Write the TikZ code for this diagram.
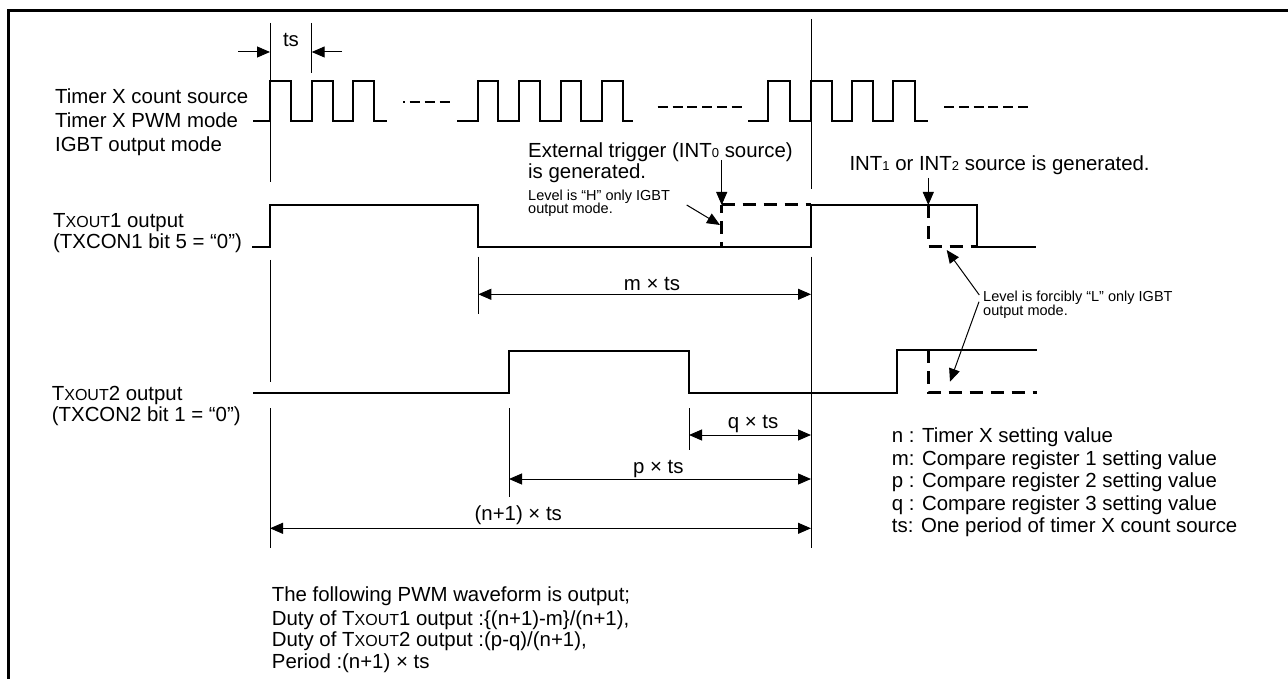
\documentclass[tikz,border=0pt]{standalone}
\usepackage{fontspec}
\setmainfont{Liberation Sans}
\usetikzlibrary{arrows.meta}
\newcommand{\myxout}{{\fontsize{16}{16}\selectfont XOUT}}
\newcommand{\mysub}[1]{{\fontsize{13}{13}\selectfont #1}}
\newcommand{\smallfnt}{\fontsize{14.5}{15}\selectfont}
\tikzset{
  txt/.style={inner sep=0pt, anchor=base west, font=\fontsize{20.4}{23}\selectfont},
  ctxt/.style={inner sep=0pt, anchor=base, font=\fontsize{20.4}{23}\selectfont},
  stxt/.style={inner sep=0pt, anchor=base west, font=\smallfnt},
  wave/.style={line width=2pt, line join=miter},
  refl/.style={line width=1pt},
  dsh/.style={line width=3pt, dash pattern=on 13pt off 8pt},
  cdash/.style={line width=1.5pt},
  dimarr/.style={line width=1pt, {Triangle[length=13pt,width=11pt]}-{Triangle[length=13pt,width=11pt]}},
  onearr/.style={line width=1pt, -{Triangle[length=13pt,width=11pt]}},
  framel/.style={line width=3pt}
}
\begin{document}
\begin{tikzpicture}[x=1pt,y=-1pt]
\useasboundingbox (0,0) rectangle (1288,679);
% frame
\draw[framel] (1288,10.3) -- (8.5,10.3) -- (8.5,679);

% ---------- count source ----------
\node[txt] (l1) at (55,104) {Timer X count source};
\node[txt] (l2) at (55,128) {Timer X PWM mode};
\node[txt] (l3) at (55,152) {IGBT output mode};

\draw[wave] (253,121) -- (270,121) -- (270,81) -- (290.85,81) -- (290.85,121) -- (311.7,121) -- (311.7,81) -- (332.55,81) -- (332.55,121) -- (353.4,121) -- (353.4,81) -- (374.25,81) -- (374.25,121) -- (386.7,121);
\draw[wave] (457,121) -- (477.7,121) -- (477.7,81) -- (498.45,81) -- (498.45,121) -- (519.2,121) -- (519.2,81) -- (539.95,81) -- (539.95,121) -- (560.7,121) -- (560.7,81) -- (581.45,81) -- (581.45,121) -- (602.2,121) -- (602.2,81) -- (622.95,81) -- (622.95,121) -- (633,121);
\draw[wave] (748,121) -- (768.3,121) -- (768.3,81) -- (789.65,81) -- (789.65,121) -- (811,121) -- (811,81) -- (831.7,81) -- (831.7,121) -- (852.3,121) -- (852.3,81) -- (872.8,81) -- (872.8,121) -- (893.3,121) -- (893.3,81) -- (915,81) -- (915,121) -- (928.3,121);
\draw[cdash, dash pattern=on 1.5pt off 5pt on 10pt off 5pt on 10pt off 5pt on 10pt off 100pt] (403,102) -- (450,102);
\draw[cdash, dash pattern=on 10pt off 4.8pt] (657.7,107) -- (741.7,107);
\draw[cdash, dash pattern=on 10pt off 4.8pt] (944,107) -- (1028.3,107);

% ts dimension
\coordinate (tsA) at (270,52);
\coordinate (tsB) at (311.7,52);
\coordinate (tsAl) at (238,52);
\coordinate (tsBr) at (342,52);
\draw[refl] (311.7,23) -- (311.7,73);
\draw[onearr] (tsAl) -- (tsA);
\draw[onearr] (tsBr) -- (tsB);
\node[ctxt] (ts) at (291,47) {ts};

% reference lines
\draw[refl] (270,23) -- (270,182);
\draw[refl] (270,260) -- (270,381.7);
\draw[refl] (270,408.3) -- (270,548.3);
\draw[refl] (811,19) -- (811,189);
\draw[refl] (811,256.7) -- (811,548.3);
\draw[refl] (478.3,256.7) -- (478.3,314.3);
\draw[refl] (509,408.3) -- (509,496.7);
\draw[refl] (689,408.3) -- (689,450);

% ---------- TXOUT1 ----------
\node[txt] (o1a) at (53,227.3) {T\myxout1 output};
\node[txt] (o1b) at (53,248.5) {(TXCON1 bit 5 = “0”)};
\draw[wave] (252,246.7) -- (270,246.7) -- (270,205) -- (478.3,205) -- (478.3,246.7) -- (811,246.7) -- (811,205) -- (976.7,205) -- (976.7,246.7) -- (1036,246.7);
\draw[dsh, dash phase=5pt] (721.7,205) -- (721.7,246.7);
\draw[dsh] (721.7,205) -- (811,205);
\draw[dsh] (928.3,205) -- (928.3,246.7) -- (976.7,246.7);

% ---------- TXOUT2 ----------
\node[txt] (o2a) at (51.7,400) {T\myxout2 output};
\node[txt] (o2b) at (51.7,421.7) {(TXCON2 bit 1 = “0”)};
\draw[wave] (253,392.7) -- (509,392.7) -- (509,351) -- (689,351) -- (689,392.7) -- (896.7,392.7) -- (896.7,350) -- (1036.7,350);
\draw[dsh] (928.3,350) -- (928.3,392.7) -- (1036.7,392.7);

% ---------- dimensions ----------
\coordinate (mA) at (478.3,294.3);
\coordinate (mB) at (811,294.3);
\draw[dimarr] (mA) -- (mB);
\node[ctxt] (mlab) at (652,290.5) {m × ts};

\coordinate (qA) at (689,435);
\coordinate (qB) at (811,435);
\draw[dimarr] (qA) -- (qB);
\node[ctxt] (qlab) at (753,428.5) {q × ts};

\coordinate (pA) at (509,479);
\coordinate (pB) at (811,479);
\draw[dimarr] (pA) -- (pB);
\node[ctxt] (plab) at (658.3,473) {p × ts};

\coordinate (nA) at (270,528.3);
\coordinate (nB) at (811,528.3);
\draw[dimarr] (nA) -- (nB);
\node[ctxt] (nlab) at (518.3,520.5) {(n+1) × ts};

% ---------- annotations ----------
\node[txt] (ext1) at (528,157.3) {External trigger (INT\mysub{0} source)};
\node[txt] (ext2) at (528,179) {is generated.};
\coordinate (extS) at (721.7,160);
\coordinate (extT) at (721.7,205);
\draw[onearr] (extS) -- (extT);

\node[stxt] (h1) at (528,200.3) {Level is “H” only IGBT};
\node[stxt] (h2) at (528,214) {output mode.};
\coordinate (hS) at (686.7,205);
\coordinate (hT) at (720,225);
\draw[onearr] (hS) -- (hT);

\node[txt] (int12) at (849.3,171) {INT\mysub{1} or INT\mysub{2} source is generated.};
\coordinate (intS) at (928.3,178);
\coordinate (intT) at (928.3,205);
\draw[onearr] (intS) -- (intT);

\node[stxt] (f1) at (983,301) {Level is forcibly “L” only IGBT};
\node[stxt] (f2) at (983,315) {output mode.};
\coordinate (fS1) at (979.3,295);
\coordinate (fT1) at (946.7,250);
\coordinate (fS2) at (979,301.7);
\coordinate (fT2) at (950,381.7);
\draw[onearr] (fS1) -- (fT1);
\draw[onearr] (fS2) -- (fT2);

% ---------- legend ----------
\node[txt] (g1) at (891.7,442.7) {n : Timer X setting value};
\node[txt] (g2) at (891.7,465.7) {m: Compare register 1 setting value};
\node[txt] (g3) at (891.7,487.3) {p : Compare register 2 setting value};
\node[txt] (g4) at (891.7,510) {q : Compare register 3 setting value};
\node[txt] (g5) at (891.7,532.7) {ts: One period of timer X count source};

% ---------- bottom text ----------
\node[txt] (b1) at (271.7,601.7) {The following PWM waveform is output;};
\node[txt] (b2) at (271.7,625) {Duty of T\myxout1 output :\{(n+1)-m\}/(n+1),};
\node[txt] (b3) at (271.7,646.7) {Duty of T\myxout2 output :(p-q)/(n+1),};
\node[txt] (b4) at (271.7,668.3) {Period :(n+1) × ts};
\end{tikzpicture}
\end{document}
